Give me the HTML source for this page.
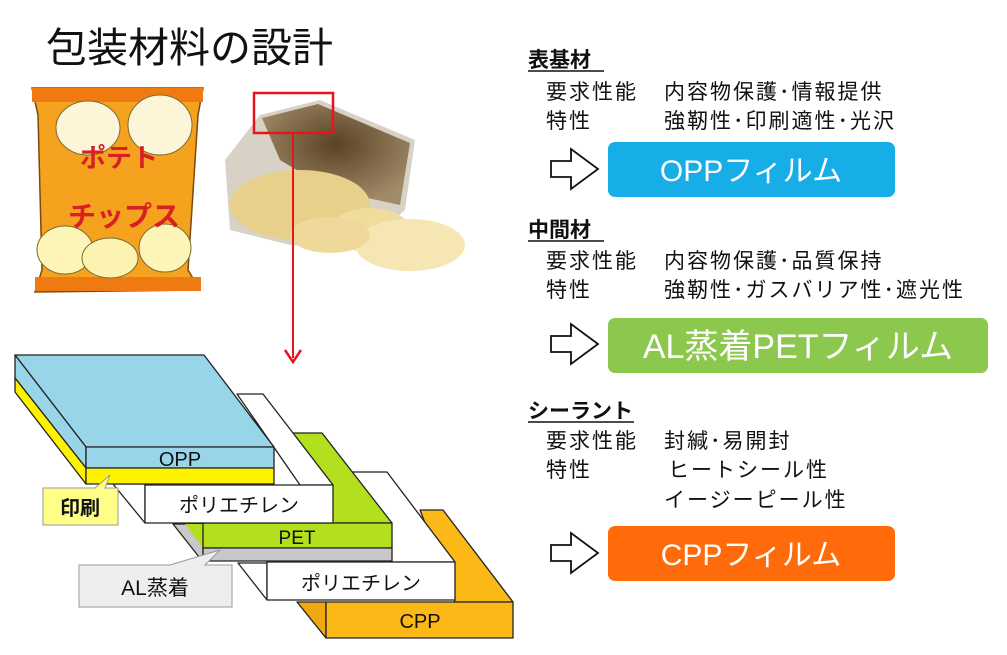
<!DOCTYPE html>
<html><head><meta charset="utf-8"><style>
html,body{margin:0;padding:0;background:#fff;}
svg{display:block;font-family:"Liberation Sans","Noto Sans CJK JP",sans-serif;}
</style></head><body>
<svg width="1007" height="655" viewBox="0 0 1007 655" xmlns="http://www.w3.org/2000/svg">
<defs>
<radialGradient id="bagIn" cx="0.5" cy="0.4" r="0.6"><stop offset="0" stop-color="#5a4326"/><stop offset="1" stop-color="#a08a68"/></radialGradient>
</defs>
<text x="46" y="62" font-size="41" fill="#111">包装材料の設計</text>

<polygon points="32,88 203,88 198,115 188,270 200,290 35,292 42,270 38,115" fill="#f5a21f" stroke="#7a4a10" stroke-width="1.5"/>
<rect x="32" y="88" width="171" height="14" fill="#ef7a12"/>
<rect x="35" y="277" width="166" height="14" fill="#ef7a12"/>
<ellipse cx="88" cy="128" rx="32" ry="27" fill="#fdf5d8" stroke="#7a6a30"/>
<ellipse cx="160" cy="125" rx="32" ry="30" fill="#fdf5d8" stroke="#7a6a30"/>
<ellipse cx="65" cy="250" rx="28" ry="24" fill="#fdf5b8" stroke="#7a6a30"/>
<ellipse cx="110" cy="258" rx="28" ry="20" fill="#fdf3b0" stroke="#7a6a30"/>
<ellipse cx="165" cy="248" rx="26" ry="24" fill="#fdf5b8" stroke="#7a6a30"/>
<text x="80" y="167" font-size="26" font-weight="bold" fill="#d81f26">ポテト</text>
<text x="68" y="226" font-size="28" font-weight="bold" fill="#d81f26">チップス</text>

<polygon points="225,160 260,115 320,100 415,140 405,210 360,250 290,245 230,230" fill="#d8d2c6"/>
<polygon points="262,118 318,104 410,143 400,205 330,190 280,160" fill="url(#bagIn)"/>
<ellipse cx="300" cy="205" rx="70" ry="35" fill="#e8cf8a"/>
<ellipse cx="370" cy="230" rx="40" ry="22" fill="#f0dc9c"/>
<ellipse cx="410" cy="245" rx="55" ry="26" fill="#f5e6b4"/>
<ellipse cx="330" cy="235" rx="40" ry="18" fill="#efd99a"/>
<rect x="254" y="93" width="79" height="40" fill="none" stroke="#e8141c" stroke-width="2.5"/>
<line x1="293" y1="133" x2="293" y2="358" stroke="#e8141c" stroke-width="2"/>
<polyline points="285,350 293,362 301,350" fill="none" stroke="#e8141c" stroke-width="2.5"/>

<g stroke="#222" stroke-width="1.3" stroke-linejoin="round">
<polygon points="420,510 443,510 513,602 455,602" fill="#fbb817"/>
<polygon points="297,602 326,602 326,638" fill="#f0a810"/>
<rect x="326" y="602" width="187" height="36" fill="#fbb817"/>
<polygon points="352,472 387,472 455,562 385,562" fill="#fff"/>
<polygon points="238,563 267,563 267,600" fill="#fff"/>
<rect x="267" y="562" width="188" height="38" fill="#fff"/>
<polygon points="293,433 322,433 392,523 330,523" fill="#b2df1e"/>
<polygon points="173,524 203,524 203,562" fill="#c8c8c8"/>
<polygon points="185,524 203,524 203,548" fill="#b2df1e" stroke="none"/>
<rect x="203" y="523" width="189" height="25" fill="#b2df1e"/>
<rect x="203" y="548" width="189" height="13" fill="#c8c8c8"/>
<polygon points="237,394 263,394 333,485 300,485" fill="#fff"/>
<polygon points="113,484 145,484 145,523" fill="#fff"/>
<rect x="145" y="485" width="188" height="38" fill="#fff"/>
<polygon points="15,355 204,355 274,447 86,447" fill="#99d5e9"/>
<polygon points="15,355 86,447 86,468 15,378" fill="#99d5e9"/>
<polygon points="15,378 86,468 86,484 15,392" fill="#fff200"/>
<rect x="86" y="447" width="188" height="21" fill="#99d5e9"/>
<rect x="86" y="468" width="188" height="16" fill="#fff200"/>
</g>
<g font-size="20" fill="#111" text-anchor="middle">
<text x="180" y="466">OPP</text>
<text x="239" y="512">ポリエチレン</text>
<text x="297" y="544" font-size="19">PET</text>
<text x="361" y="590">ポリエチレン</text>
<text x="420" y="628">CPP</text>
</g>
<path d="M43,488 L95,488 L110,475 L105,488 L118,488 L118,525 L43,525 Z" fill="#ffff88" stroke="#999" stroke-width="1"/>
<text x="80" y="515" font-size="20" font-weight="bold" fill="#111" text-anchor="middle">印刷</text>
<path d="M79,565 L170,565 L220,550 L205,565 L232,565 L232,607 L79,607 Z" fill="#eee" stroke="#999" stroke-width="1"/>
<text x="155" y="595" font-size="21" fill="#111" text-anchor="middle">AL蒸着</text>

<g font-size="21" fill="#111" letter-spacing="2">
<text x="528" y="67" font-weight="bold" letter-spacing="0">表基材</text>
<line x1="528" y1="71" x2="604" y2="71" stroke="#111" stroke-width="1.5"/>
<text x="546" y="99">要求性能</text><text x="664" y="99">内容物保護･情報提供</text>
<text x="546" y="128">特性</text><text x="664" y="128">強靭性･印刷適性･光沢</text>

<text x="528" y="237" font-weight="bold" letter-spacing="0">中間材</text>
<line x1="528" y1="241" x2="604" y2="241" stroke="#111" stroke-width="1.5"/>
<text x="546" y="268">要求性能</text><text x="664" y="268">内容物保護･品質保持</text>
<text x="546" y="297">特性</text><text x="664" y="297">強靭性･ガスバリア性･遮光性</text>

<text x="528" y="418" font-weight="bold" letter-spacing="0">シーラント</text>
<line x1="528" y1="422" x2="634" y2="422" stroke="#111" stroke-width="1.5"/>
<text x="546" y="448">要求性能</text><text x="664" y="448">封緘･易開封</text>
<text x="546" y="477">特性</text><text x="668" y="477">ヒートシール性</text>
<text x="664" y="507">イージーピール性</text>
</g>
<g fill="#fff" stroke="#111" stroke-width="1.8" stroke-linejoin="miter">
<polygon points="551,161 571,161 571,149 598,169 571,189 571,177 551,177"/>
<polygon points="551,336 571,336 571,324 598,344 571,364 571,352 551,352"/>
<polygon points="551,545 571,545 571,533 598,553 571,573 571,561 551,561"/>
</g>
<rect x="608" y="142" width="287" height="55" rx="7" fill="#17ade7"/>
<rect x="608" y="318" width="380" height="55" rx="7" fill="#8cc74e"/>
<rect x="608" y="526" width="287" height="55" rx="7" fill="#ff6b0a"/>
<g fill="#fff" font-size="30" text-anchor="middle">
<text x="751" y="181">OPPフィルム</text>
<text x="798" y="358" font-size="34">AL蒸着PETフィルム</text>
<text x="751" y="565">CPPフィルム</text>
</g>
</svg>
</body></html>
